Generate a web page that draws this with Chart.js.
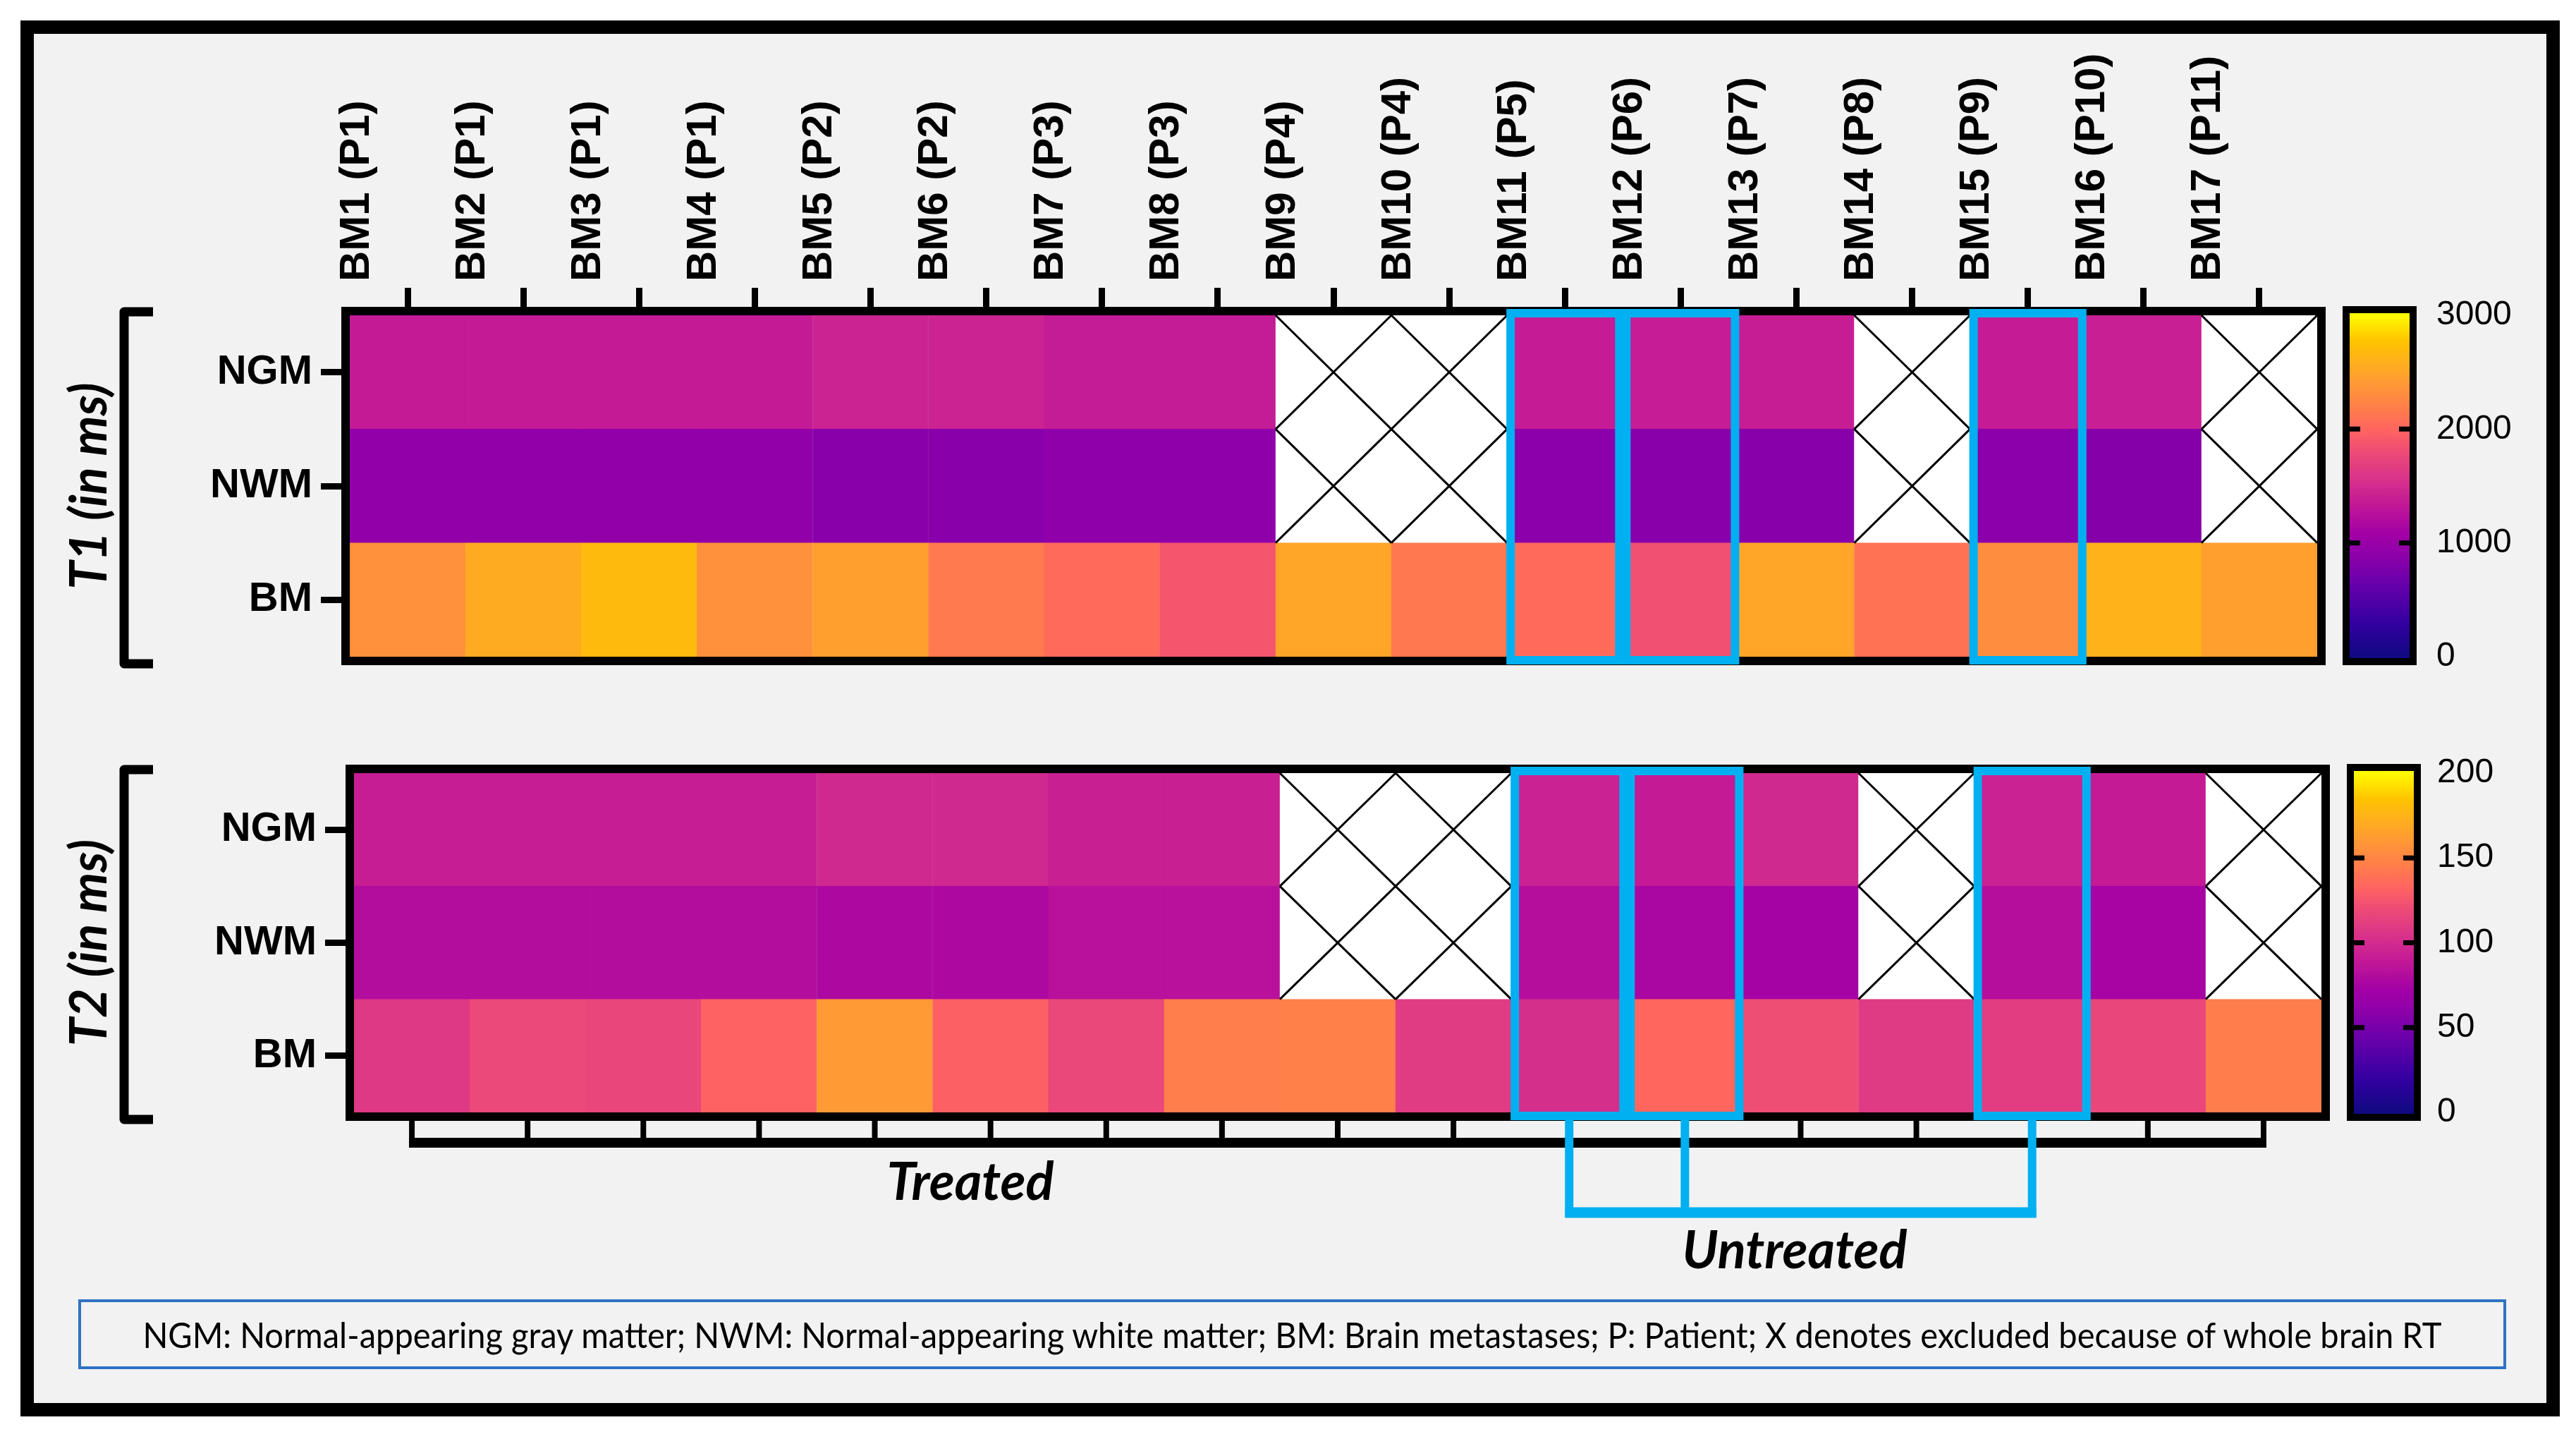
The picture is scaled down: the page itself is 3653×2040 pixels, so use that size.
<!DOCTYPE html>
<html>
<head>
<meta charset="utf-8">
<script src="https://cdn.jsdelivr.net/npm/chart.js@4.4.1/dist/chart.umd.min.js"></script>
<style>
  html, body { margin: 0; padding: 0; background: #fff; }
  body { width: 3653px; height: 2040px; position: relative; overflow: hidden; }
  #frame { position: absolute; left: 29px; top: 29px; width: 3601px; height: 1979px; box-sizing: border-box;
           border: 19px solid #000; background: #f2f2f2; }
  canvas { position: absolute; left: 0; }
  #c1 { top: 0; }
  #c2 { top: 1000px; }
  .grp { position: absolute; font-family: Lato, 'Open Sans', sans-serif; font-weight: 700; font-style: italic;
         font-size: 74px; color: #000; transform: translate(-50%, -50%); white-space: nowrap; }
  #note { position: absolute; left: 111px; top: 1842px; width: 3443px; height: 99px; box-sizing: border-box;
          border: 4px solid #2f72c4; display: flex; align-items: center; justify-content: center;
          font-family: Lato, 'Open Sans', sans-serif; font-size: 50px; color: #000; }
  #noteText { display: inline-block; white-space: nowrap; transform-origin: center; }
</style>
</head>
<body>
<div id="frame"></div>
<canvas id="c1" width="3653" height="1000"></canvas>
<canvas id="c2" width="3653" height="800"></canvas>
<div class="grp" style="left:1376px; top:1672px;">Treated</div>
<div class="grp" style="left:2545px; top:1769px;">Untreated</div>
<div id="note"><span id="noteText">NGM: Normal-appearing gray matter; NWM: Normal-appearing white matter; BM: Brain metastases; P: Patient; X denotes excluded because of whole brain RT</span></div>
<script>
// columns and rows
const categories = ['BM1 (P1)', 'BM2 (P1)', 'BM3 (P1)', 'BM4 (P1)', 'BM5 (P2)', 'BM6 (P2)', 'BM7 (P3)', 'BM8 (P3)',
  'BM9 (P4)', 'BM10 (P4)', 'BM11 (P5)', 'BM12 (P6)', 'BM13 (P7)', 'BM14 (P8)', 'BM15 (P9)', 'BM16 (P10)', 'BM17 (P11)'];
const rowNames = ['NGM', 'NWM', 'BM'];
const untreatedCols = ['BM11 (P5)', 'BM12 (P6)', 'BM15 (P9)'];

// T1 (ms), null = excluded
const t1NGM = [1350, 1350, 1350, 1350, 1425, 1425, 1355, 1355, null, null, 1360, 1370, 1380, null, 1360, 1390, null];
const t1NWM = [930, 930, 930, 930, 870, 870, 915, 915, null, null, 880, 870, 860, null, 880, 850, null];
const t1BM = [2325, 2535, 2670, 2325, 2445, 2145, 2025, 1875, 2490, 2130, 2025, 1830, 2490, 2085, 2295, 2595, 2445];
const t1Ticks = [0, 1000, 2000, 3000];

// T2 (ms)
const t2NGM = [92, 92, 92, 92, 98, 98, 93, 93, null, null, 94, 90, 98, null, 94, 90, null];
const t2NWM = [81, 81, 81, 81, 78, 78, 84, 84, null, null, 82, 76, 74, null, 82, 75, null];
const t2BM = [108, 118, 116, 131, 160, 130, 117, 145, 146, 110, 102, 133, 121, 109, 111, 116, 144];
const t2Ticks = [0, 50, 100, 150, 200];

// plasma-like colour map
const cmapStops = [
  [0.00, '#0f0a80'], [0.10, '#3200a0'], [0.20, '#6000aa'], [0.30, '#8e00aa'], [0.36, '#a200a6'],
  [0.45, '#c41a96'], [0.52, '#d8328a'], [0.60, '#ee4c76'], [0.66, '#ff6460'], [0.72, '#ff7c4c'],
  [0.80, '#ff9a34'], [0.86, '#ffb01c'], [0.92, '#ffc400'], [1.00, '#ffff00']
];
function hex(h) { return [1, 3, 5].map(i => parseInt(h.substr(i, 2), 16)); }
function cmap(t) {
  t = Math.max(0, Math.min(1, t));
  for (let i = 1; i < cmapStops.length; i++) {
    const [t1, c1] = cmapStops[i - 1], [t2, c2] = cmapStops[i];
    if (t <= t2) {
      const f = (t - t1) / (t2 - t1), a = hex(c1), b = hex(c2);
      return 'rgb(' + a.map((v, k) => Math.round(v + (b[k] - v) * f)).join(',') + ')';
    }
  }
  return cmapStops[cmapStops.length - 1][1];
}

const BLUE = '#00b0f0';
const labelFont = { family: "'Liberation Sans', Arial, sans-serif", size: 60, weight: 'bold' };

const decorate = {
  id: 'decorate',
  afterDatasetsDraw(chart) {
    const ctx = chart.ctx, a = chart.chartArea, xs = chart.scales.x, cb = chart.scales.cb;
    const g = chart.options.plugins.decorate;
    const colW = a.width / categories.length;
    ctx.save();
    ctx.strokeStyle = '#000';
    // X for excluded cells
    chart.data.datasets.forEach((ds, di) => {
      chart.getDatasetMeta(di).data.forEach((bar, i) => {
        if (ds.values[i] != null) return;
        const p = bar.getProps(['x', 'y', 'base', 'width'], true);
        const l = p.x - p.width / 2, r = p.x + p.width / 2;
        const t = Math.min(p.y, p.base), b = Math.max(p.y, p.base);
        ctx.beginPath();
        ctx.moveTo(l, t); ctx.lineTo(r, b);
        ctx.moveTo(r, t); ctx.lineTo(l, b);
        ctx.lineWidth = 3;
        ctx.stroke();
      });
    });
    // heatmap frame
    ctx.lineWidth = 12;
    ctx.strokeRect(a.left - 6, a.top - 6, a.width + 12, a.height + 12);
    // blue boxes around untreated
    ctx.strokeStyle = BLUE;
    ctx.lineWidth = 12;
    untreatedCols.forEach(c => {
      const cx = xs.getPixelForValue(categories.indexOf(c));
      ctx.strokeRect(cx - colW / 2 + 5, a.top - 3, colW - 10, a.height + 8);
    });
    // left bracket
    ctx.strokeStyle = '#000';
    ctx.lineWidth = 13;
    ctx.lineJoin = 'round';
    ctx.beginPath();
    ctx.moveTo(217, a.top - 5); ctx.lineTo(176, a.top - 5);
    ctx.lineTo(176, a.bottom + 10); ctx.lineTo(217, a.bottom + 10);
    ctx.stroke();
    // colour bar
    const x0 = a.right + 46, w = 85;
    const yTop = cb.getPixelForValue(cb.max) - 3, yBot = cb.getPixelForValue(cb.min) + 2;
    const grad = ctx.createLinearGradient(0, yBot, 0, yTop);
    cmapStops.forEach(([t, c]) => grad.addColorStop(t, c));
    ctx.fillStyle = grad;
    ctx.fillRect(x0, yTop, w, yBot - yTop);
    ctx.lineWidth = 10;
    ctx.lineJoin = 'miter';
    ctx.strokeRect(x0 - 5, yTop - 5, w + 10, yBot - yTop + 10);
    ctx.lineWidth = 7;
    cb.ticks.forEach(tk => {
      if (tk.value === cb.min || tk.value === cb.max) return;
      const y = cb.getPixelForValue(tk.value);
      ctx.beginPath();
      ctx.moveTo(x0, y); ctx.lineTo(x0 + 15, y);
      ctx.moveTo(x0 + w - 15, y); ctx.lineTo(x0 + w, y);
      ctx.stroke();
    });
    // group brackets below the T2 map
    if (g.groups) {
      const centers = categories.map((c, i) => xs.getPixelForValue(i));
      ctx.strokeStyle = '#000';
      ctx.lineWidth = 8;
      centers.forEach(cx => {
        ctx.beginPath(); ctx.moveTo(cx, a.bottom + 12); ctx.lineTo(cx, a.bottom + 50); ctx.stroke();
      });
      ctx.lineWidth = 14;
      ctx.beginPath();
      ctx.moveTo(centers[0] - 4, a.bottom + 43); ctx.lineTo(centers[centers.length - 1] + 4, a.bottom + 43);
      ctx.stroke();
      const ux = untreatedCols.map(c => centers[categories.indexOf(c)]);
      ctx.strokeStyle = BLUE;
      ctx.lineWidth = 12;
      ux.forEach(cx => {
        ctx.beginPath(); ctx.moveTo(cx, a.bottom + 8); ctx.lineTo(cx, a.bottom + 148); ctx.stroke();
      });
      ctx.lineWidth = 15;
      ctx.beginPath();
      ctx.moveTo(Math.min(...ux) - 6, a.bottom + 142); ctx.lineTo(Math.max(...ux) + 6, a.bottom + 142);
      ctx.stroke();
    }
    ctx.restore();
  }
};

// keep tick-label padding from shrinking the plot vertically
function noVPad(s) { s.paddingTop = 0; s.paddingBottom = 0; }

function makeHeatmap(id, title, ngm, nwm, bm, ticks, g) {
  const max = ticks[ticks.length - 1];
  const colour = vals => c => vals[c.dataIndex] == null ? '#ffffff' : cmap(vals[c.dataIndex] / max);
  const datasets = [bm, nwm, ngm].map((vals, r) => ({
    label: rowNames[2 - r],
    data: categories.map(() => 1),
    values: vals,
    backgroundColor: colour(vals),
    borderColor: colour(vals),
    borderWidth: 1,
    borderSkipped: false,
    barPercentage: 1,
    categoryPercentage: 1
  }));
  return new Chart(document.getElementById(id), {
    type: 'bar',
    data: { labels: categories, datasets },
    options: {
      responsive: false,
      animation: false,
      devicePixelRatio: 1,
      layout: { padding: { left: 0, right: 0, top: g.padTop, bottom: g.padBottom } },
      plugins: { legend: { display: false }, tooltip: { enabled: false }, decorate: { groups: g.groups } },
      scales: {
        x: {
          type: 'category', stacked: true, position: 'top', display: g.showX, offset: true,
          grid: { offset: false, drawOnChartArea: false, tickLength: 39, tickWidth: 9, tickColor: '#000' },
          border: { display: false },
          ticks: { autoSkip: false, minRotation: 90, maxRotation: 90, padding: 9, color: '#000', font: labelFont },
          afterFit: s => { s.height = g.xHeight; }
        },
        y: {
          type: 'linear', stacked: true, min: 0, max: 3, position: 'left',
          afterBuildTicks: s => { s.ticks = [0.5, 1.5, 2.5].map(v => ({ value: v })); },
          ticks: { callback: v => rowNames[2 - Math.floor(v)], padding: 12, color: '#000',
                   font: { family: "'Liberation Sans', Arial, sans-serif", size: 58, weight: 'bold' } },
          grid: { drawOnChartArea: false, tickLength: 41, tickWidth: 9, tickColor: '#000' },
          border: { display: false },
          title: { display: true, text: title, color: '#000', padding: { top: 85, bottom: 0 },
                   font: { family: "Lato, 'Open Sans', sans-serif", size: 72, style: 'italic', weight: 'bold' } },
          afterFit: s => { s.width = g.left; noVPad(s); }
        },
        cb: {
          type: 'linear', axis: 'y', position: 'right', min: 0, max: max,
          afterBuildTicks: s => { s.ticks = ticks.map(v => ({ value: v })); },
          grid: { display: false, drawTicks: false },
          border: { display: false },
          ticks: { padding: g.cbPad, color: '#000', callback: v => String(v),
                   font: { family: "'Liberation Sans', Arial, sans-serif", size: 48 } },
          afterFit: s => { s.width = 3653 - g.right; noVPad(s); }
        }
      }
    },
    plugins: [decorate]
  });
}

makeHeatmap('c1', 'T1 (in ms)', t1NGM, t1NWM, t1BM, t1Ticks,
  { padTop: 0, padBottom: 69, xHeight: 447, showX: true, left: 496, right: 3286, cbPad: 169, groups: false });
makeHeatmap('c2', 'T2 (in ms)', t2NGM, t2NWM, t2BM, t2Ticks,
  { padTop: 96, padBottom: 223, xHeight: 0, showX: false, left: 502, right: 3292, cbPad: 164, groups: true });

// fit the footnote to the box width
const note = document.getElementById('noteText');
const nw = note.getBoundingClientRect().width;
note.style.transform = 'scaleX(' + (3260 / nw) + ')';
</script>
</body>
</html>
